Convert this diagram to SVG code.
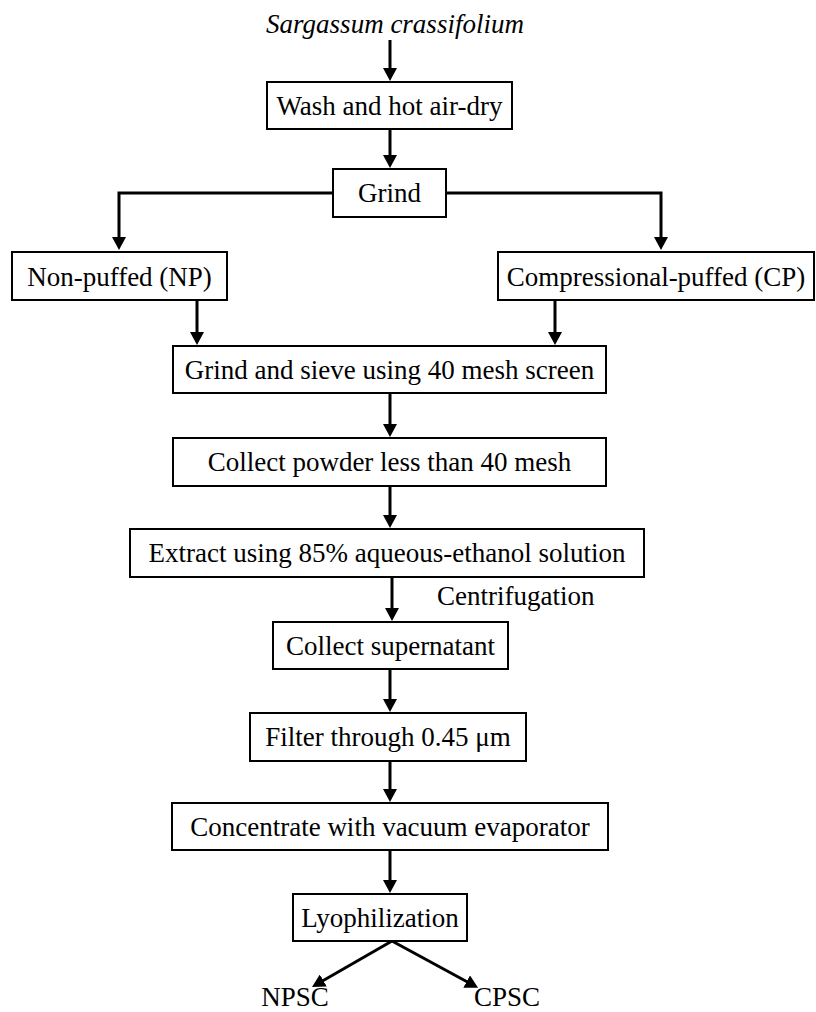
<svg xmlns="http://www.w3.org/2000/svg" width="816" height="1012" viewBox="0 0 816 1012">
<style>
text{font-family:"Liberation Serif","Times New Roman",serif;font-size:27px;fill:#000;text-anchor:middle}
.box rect{fill:#fff;stroke:#000;stroke-width:2}
.c line,.c polyline{stroke:#000;stroke-width:3;fill:none;marker-end:url(#ah)}
</style>
<defs>
<marker id="ah" markerUnits="userSpaceOnUse" markerWidth="14" markerHeight="14" refX="3" refY="7" orient="auto">
<path d="M0,0 L13,7 L0,14 z" fill="#000"/>
</marker>
</defs>
<rect width="816" height="1012" fill="#fff"/>
<g class="c" id="connectors">
<line x1="390" y1="40" x2="390" y2="71"/>
<line x1="390" y1="129" x2="390" y2="158"/>
<polyline points="333,193 119,193 119,240"/>
<polyline points="446,193 661,193 661,240"/>
<line x1="197" y1="300" x2="197" y2="335"/>
<line x1="555" y1="300" x2="555" y2="335"/>
<line x1="390" y1="393" x2="390" y2="427"/>
<line x1="390" y1="486" x2="390" y2="518"/>
<line x1="392" y1="577" x2="392" y2="611"/>
<line x1="390" y1="669" x2="390" y2="702"/>
<line x1="390" y1="761" x2="390" y2="792"/>
<line x1="390" y1="850" x2="390" y2="883"/>
<line x1="392" y1="941" x2="320.7" y2="982"/>
<line x1="392" y1="941" x2="469.3" y2="983"/>
</g>
<g id="title"><text x="395" y="33" font-style="italic">Sargassum crassifolium</text></g>
<g class="box" id="wash"><rect x="267" y="82" width="245" height="47"/><text x="389.5" y="115">Wash and hot air-dry</text></g>
<g class="box" id="grind"><rect x="333" y="169" width="113" height="48"/><text x="389.5" y="202">Grind</text></g>
<g class="box" id="np"><rect x="12" y="252" width="215" height="48"/><text x="119.5" y="286">Non-puffed (NP)</text></g>
<g class="box" id="cp"><rect x="498" y="252" width="316" height="48"/><text x="656" y="286">Compressional-puffed (CP)</text></g>
<g class="box" id="sieve"><rect x="173" y="346" width="433" height="47"/><text x="389.5" y="379">Grind and sieve using 40 mesh screen</text></g>
<g class="box" id="powder"><rect x="173" y="438" width="433" height="48"/><text x="389.5" y="471">Collect powder less than 40 mesh</text></g>
<g class="box" id="extract"><rect x="130" y="529" width="514" height="48"/><text x="387" y="562">Extract using 85% aqueous-ethanol solution</text></g>
<g id="centrifugation"><text x="437" y="605" style="text-anchor:start">Centrifugation</text></g>
<g class="box" id="supernatant"><rect x="273" y="622" width="235" height="47"/><text x="390.5" y="655">Collect supernatant</text></g>
<g class="box" id="filter"><rect x="250" y="713" width="276" height="48"/><text x="388" y="746">Filter through 0.45 μm</text></g>
<g class="box" id="concentrate"><rect x="172" y="803" width="436" height="47"/><text x="390" y="836">Concentrate with vacuum evaporator</text></g>
<g class="box" id="lyo"><rect x="293" y="894" width="174" height="47"/><text x="380" y="927">Lyophilization</text></g>
<g id="npsc"><text x="295" y="1006">NPSC</text></g>
<g id="cpsc"><text x="507" y="1006">CPSC</text></g>
</svg>
